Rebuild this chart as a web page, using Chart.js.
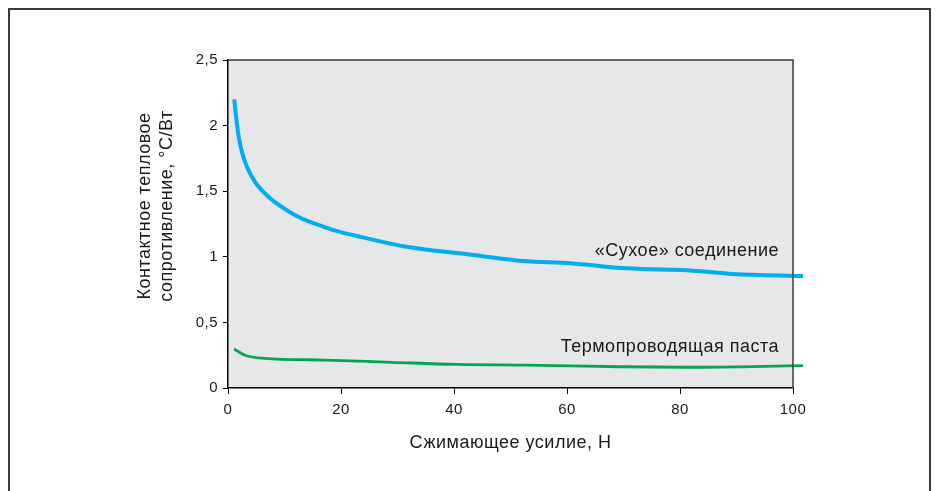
<!DOCTYPE html>
<html>
<head>
<meta charset="utf-8">
<script src="https://cdn.jsdelivr.net/npm/chart.js@4"></script>
<style>
  body { margin: 0; background: #fff; }
</style>
</head>
<body>
<canvas id="myChart" width="936" height="491"></canvas>
<script>
const dryForce = [1.1, 1.8, 2.4, 3.3, 4.8, 7.1, 9, 12.4, 17.2, 19.8, 23.7, 31.6, 43.4, 52.3, 60.5, 70.6, 82.3, 89.4, 101.8];
const dryValues = [2.2, 1.94, 1.81, 1.69, 1.57, 1.46, 1.395, 1.305, 1.225, 1.19, 1.15, 1.077, 1.014, 0.968, 0.95, 0.912, 0.894, 0.869, 0.854];

const pasteForce = [1.1, 3.0, 6.5, 17.2, 29, 40.7, 52.6, 69.4, 81.2, 101.8];
const pasteValues = [0.297, 0.25, 0.226, 0.213, 0.196, 0.18, 0.175, 0.162, 0.158, 0.17];

const yTicks = [0, 0.5, 1, 1.5, 2, 2.5];
const xTicks = [0, 20, 40, 60, 80, 100];

const seriesNames = ["«Сухое» соединение", "Термопроводящая паста"];
const xTitle = "Сжимающее усилие, Н";
const yTitle = ["Контактное тепловое", "сопротивление, °C/Вт"];

const font = "'Liberation Sans', Arial, sans-serif";

const toPoints = (xs, ys) => xs.map((x, i) => ({ x: x, y: ys[i] }));

const decorations = {
  id: "decorations",
  beforeDraw(chart) {
    const { ctx, chartArea } = chart;
    ctx.save();
    ctx.fillStyle = "#e6e7e8";
    ctx.fillRect(chartArea.left, chartArea.top, chartArea.right - chartArea.left, chartArea.bottom - chartArea.top);
    ctx.restore();
    // slightly wider text for tick labels
    ctx.letterSpacing = "0.5px";
  },
  afterDraw(chart) {
    const { ctx, chartArea } = chart;
    ctx.save();
    // top and right edges of plot box
    ctx.strokeStyle = "#3c3c3c";
    ctx.lineWidth = 1.5;
    ctx.beginPath();
    ctx.moveTo(chartArea.left, chartArea.top);
    ctx.lineTo(chartArea.right, chartArea.top);
    ctx.lineTo(chartArea.right, chartArea.bottom);
    ctx.stroke();

    // outer frame
    ctx.strokeStyle = "#3a3a3a";
    ctx.lineWidth = 2;
    ctx.strokeRect(9, 9, 921, 520);

    // series labels
    ctx.fillStyle = "#1a1a1a";
    ctx.letterSpacing = "0.5px";
    ctx.font = "18px " + font;
    ctx.textAlign = "right";
    ctx.textBaseline = "alphabetic";
    ctx.fillText(seriesNames[0], 779, 256);
    ctx.fillText(seriesNames[1], 779, 352);

    // axis titles
    ctx.textAlign = "center";
    ctx.textBaseline = "middle";
    ctx.fillText(xTitle, (chartArea.left + chartArea.right) / 2, 443);

    ctx.translate(156, 206);
    ctx.rotate(-Math.PI / 2);
    ctx.fillText(yTitle[0], 0, -11);
    ctx.fillText(yTitle[1], 0, 11);
    ctx.restore();
  },
};

new Chart(document.getElementById("myChart"), {
  type: "line",
  data: {
    datasets: [
      {
        label: seriesNames[0],
        data: toPoints(dryForce, dryValues),
        borderColor: "#00aeef",
        borderWidth: 4,
        pointRadius: 0,
        cubicInterpolationMode: "monotone",
        clip: false,
      },
      {
        label: seriesNames[1],
        data: toPoints(pasteForce, pasteValues),
        borderColor: "#00a651",
        borderWidth: 2.8,
        pointRadius: 0,
        cubicInterpolationMode: "monotone",
        clip: false,
      },
    ],
  },
  options: {
    responsive: false,
    animation: false,
    devicePixelRatio: 1,
    layout: {
      padding: { top: 60, right: 143, bottom: 0, left: 0 },
    },
    scales: {
      x: {
        type: "linear",
        min: 0,
        max: 100,
        afterFit: (scale) => { scale.height = 103; },
        afterBuildTicks: (scale) => { scale.ticks = xTicks.map((v) => ({ value: v })); },
        grid: { drawOnChartArea: false, tickLength: 6, color: "#000", lineWidth: 1 },
        border: { color: "#000", width: 1.5 },
        ticks: {
          padding: 7,
          color: "#1a1a1a",
          maxRotation: 0,
          font: { family: font, size: 15 },
        },
      },
      y: {
        min: 0,
        max: 2.5,
        afterFit: (scale) => { scale.width = 228; },
        afterBuildTicks: (scale) => { scale.ticks = yTicks.map((v) => ({ value: v })); },
        grid: { drawOnChartArea: false, tickLength: 5, color: "#000", lineWidth: 1 },
        border: { color: "#000", width: 1.5 },
        ticks: {
          padding: 5,
          color: "#1a1a1a",
          font: { family: font, size: 15 },
          callback: (value) => String(value).replace(".", ","),
        },
      },
    },
    plugins: {
      legend: { display: false },
      tooltip: { enabled: false },
    },
  },
  plugins: [decorations],
});
</script>
</body>
</html>
